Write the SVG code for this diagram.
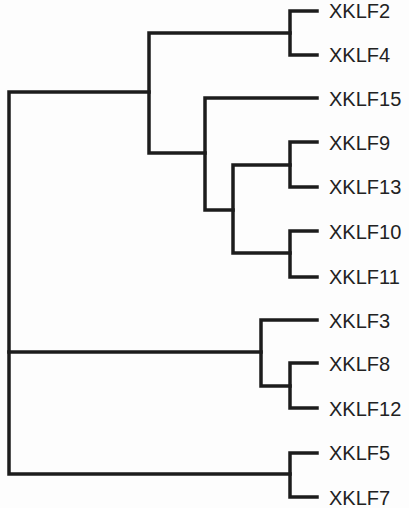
<svg xmlns="http://www.w3.org/2000/svg" width="409" height="508" viewBox="0 0 409 508">
<style>
.br{fill:none;stroke:#1c1c1c;stroke-width:3.5;stroke-linejoin:miter;stroke-linecap:square}
.lb{font-family:"Liberation Sans",Arial,sans-serif;font-size:20px;fill:#222}
</style>
<rect width="409" height="508" fill="#fdfdfd"/>
<g id="connectors">
<path class="br" d="M317,11 H290 V55 H317"/>
<path class="br" d="M317,142 H290 V187 H317"/>
<path class="br" d="M317,231 H290 V277 H317"/>
<path class="br" d="M290,165 H233 V253 H290"/>
<path class="br" d="M317,98 H205 V210 H233"/>
<path class="br" d="M290,33 H149 V153 H205"/>
<path class="br" d="M317,363 H290 V408 H317"/>
<path class="br" d="M317,320 H261 V386 H290"/>
<path class="br" d="M317,453 H290 V497 H317"/>
<path class="br" d="M149,92 H9 V474 H290"/>
<path class="br" d="M9,352 H261"/>
</g>
<g id="XKLF2"><text class="lb" x="329" y="18">XKLF2</text></g>
<g id="XKLF4"><text class="lb" x="329" y="62">XKLF4</text></g>
<g id="XKLF15"><text class="lb" x="329" y="105.5">XKLF15</text></g>
<g id="XKLF9"><text class="lb" x="329" y="149.5">XKLF9</text></g>
<g id="XKLF13"><text class="lb" x="329" y="194">XKLF13</text></g>
<g id="XKLF10"><text class="lb" x="329" y="238.5">XKLF10</text></g>
<g id="XKLF11"><text class="lb" x="329" y="284">XKLF11</text></g>
<g id="XKLF3"><text class="lb" x="329" y="327.5">XKLF3</text></g>
<g id="XKLF8"><text class="lb" x="329" y="370.5">XKLF8</text></g>
<g id="XKLF12"><text class="lb" x="329" y="415.5">XKLF12</text></g>
<g id="XKLF5"><text class="lb" x="329" y="460">XKLF5</text></g>
<g id="XKLF7"><text class="lb" x="329" y="505">XKLF7</text></g>
</svg>
